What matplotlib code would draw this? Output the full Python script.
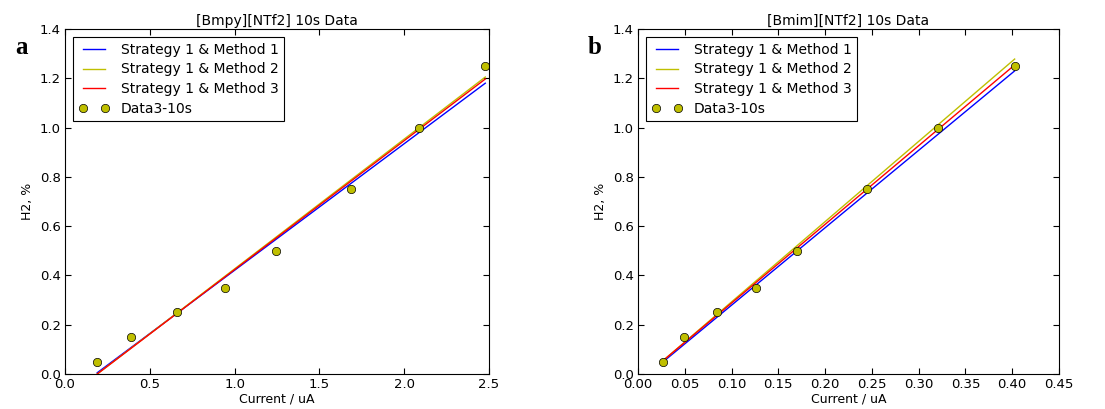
import matplotlib
matplotlib.use('Agg')
import matplotlib.pyplot as plt

# Panel a: [Bmpy][NTf2]
current_a = [0.187, 0.39, 0.66, 0.943, 1.243, 1.687, 2.09, 2.478]
h2_a = [0.05, 0.15, 0.25, 0.35, 0.5, 0.75, 1.0, 1.25]
fit_x_a = [0.19, 2.478]
fit_m1_a = [0.005, 1.18]
fit_m2_a = [0.0, 1.205]
fit_m3_a = [0.0, 1.197]

# Panel b: [Bmim][NTf2]
current_b = [0.0267, 0.0496, 0.0845, 0.1259, 0.170, 0.2453, 0.3202, 0.4026]
h2_b = [0.05, 0.15, 0.25, 0.35, 0.5, 0.75, 1.0, 1.25]
fit_x_b = [0.027, 0.4026]
fit_m1_b = [0.05, 1.23]
fit_m2_b = [0.055, 1.278]
fit_m3_b = [0.055, 1.254]

labels = ['Strategy 1 & Method 1', 'Strategy 1 & Method 2', 'Strategy 1 & Method 3', 'Data3-10s']

plt.rcParams['xtick.direction'] = 'in'
plt.rcParams['ytick.direction'] = 'in'
plt.rcParams['xtick.top'] = True
plt.rcParams['ytick.right'] = True
plt.rcParams['xtick.major.size'] = 4
plt.rcParams['ytick.major.size'] = 4
plt.rcParams['font.size'] = 9.5

fig = plt.figure(figsize=(11.05, 4.09), dpi=100)
ax1 = fig.add_axes([65 / 1105, 1 - 374 / 409, 424 / 1105, 345 / 409])
ax2 = fig.add_axes([638 / 1105, 1 - 374 / 409, 421 / 1105, 345 / 409])


def draw_panel(ax, x, y, fx, m1, m2, m3, title, xmax, xstep):
    ax.plot(fx, m1, color='b', lw=1, label=labels[0])
    ax.plot(fx, m2, color='y', lw=1, label=labels[1])
    ax.plot(fx, m3, color='r', lw=1, label=labels[2])
    ax.plot(x, y, 'o', color='y', markeredgecolor='k', markeredgewidth=0.5,
            markersize=6, label=labels[3])
    ax.set_xlim(0, xmax)
    ax.set_ylim(0, 1.4)
    ax.set_xticks([i * xstep for i in range(int(round(xmax / xstep)) + 1)])
    ax.set_yticks([0.0, 0.2, 0.4, 0.6, 0.8, 1.0, 1.2, 1.4])
    ax.tick_params(pad=3)
    ax.set_title(title, fontsize=10, pad=3)
    ax.set_xlabel('Current / uA', fontsize=9, labelpad=1)
    ax.set_ylabel('H2, %', fontsize=9)
    leg = ax.legend(loc='upper left', numpoints=2, fontsize=10, fancybox=False,
                    framealpha=1, edgecolor='k', borderaxespad=0.6,
                    handlelength=2.2, labelspacing=0.4)
    leg.get_frame().set_linewidth(0.8)


draw_panel(ax1, current_a, h2_a, fit_x_a, fit_m1_a, fit_m2_a, fit_m3_a,
           '[Bmpy][NTf2] 10s Data', 2.5, 0.5)
draw_panel(ax2, current_b, h2_b, fit_x_b, fit_m1_b, fit_m2_b, fit_m3_b,
           '[Bmim][NTf2] 10s Data', 0.45, 0.05)
ax2.xaxis.set_major_formatter(matplotlib.ticker.FormatStrFormatter('%.2f'))

fig.text(15 / 1105, 1 - 47 / 409, 'a', fontsize=18, fontweight='bold',
         family='Liberation Serif', va='center')
fig.text(588 / 1105, 1 - 47 / 409, 'b', fontsize=18, fontweight='bold',
         family='Liberation Serif', va='center')

fig.savefig('out.png', dpi=100)
